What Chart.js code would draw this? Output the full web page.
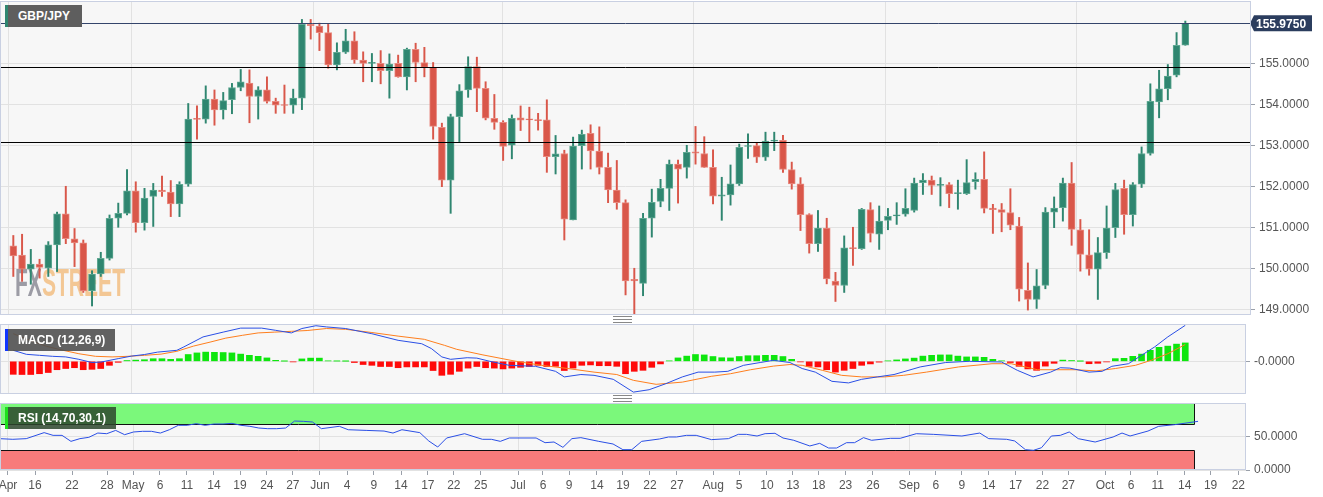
<!DOCTYPE html>
<html><head><meta charset="utf-8">
<script src="https://cdn.jsdelivr.net/npm/chart.js@4/dist/chart.umd.min.js"></script>
<style>
html,body{margin:0;padding:0;background:#fff;width:1323px;height:497px;overflow:hidden;font-family:"Liberation Sans",Arial,sans-serif}
.pane{position:absolute;left:0;width:1323px}
.tag{position:absolute;color:#fff;font-weight:bold;font-size:12px;line-height:22px;padding-left:10px;box-sizing:border-box;z-index:5}
.handle{position:absolute;left:613px;width:19px;height:5px;border-top:1px solid #888;border-bottom:1px solid #888;z-index:5}
.handle:after{content:"";position:absolute;left:0;right:0;top:2px;border-top:1px solid #888}
</style></head><body>
<div class="pane" style="top:0;height:318px"><canvas id="main"></canvas></div>
<div class="pane" style="top:324px;height:70px"><canvas id="macd"></canvas></div>
<div class="pane" style="top:403px;height:94px"><canvas id="rsi"></canvas></div>
<div class="tag" style="left:5px;top:5px;width:77px;background:#5e5e5e;border-left:3px solid #2f8670">GBP/JPY</div>
<div class="tag" style="left:5px;top:329px;width:110px;background:rgba(80,80,80,0.9);border-left:3px solid #1036ff">MACD (12,26,9)</div>
<div class="tag" style="left:5px;top:407px;width:111px;background:rgba(45,70,45,0.85);border-left:3px solid #1ee01e">RSI (14,70,30,1)</div>
<div class="handle" style="top:316px"></div>
<div class="handle" style="top:395px"></div>
<script>
// ---- data ----
const opens =[150.55,150.32,149.98,150.10,150.00,150.57,151.33,150.72,150.62,149.45,149.86,150.24,151.22,151.34,151.89,151.11,151.75,151.91,151.86,151.57,152.05,153.66,153.64,154.13,153.86,154.11,154.41,154.52,154.19,154.35,154.07,153.99,153.98,154.15,155.95,155.91,155.75,154.96,155.27,155.55,155.08,155.00,155.00,154.82,155.00,154.67,155.34,155.02,154.90,153.44,152.15,153.70,154.35,154.92,154.39,153.66,153.56,153.00,153.67,153.64,153.62,153.62,152.72,152.80,151.18,152.99,153.29,152.86,152.46,151.91,151.60,149.73,149.63,151.22,151.63,151.95,152.54,152.46,152.84,152.80,152.46,151.76,151.79,152.06,152.97,152.99,152.71,153.10,153.12,152.41,152.06,151.31,150.60,150.98,149.69,149.58,150.50,150.48,151.43,150.83,151.17,151.28,151.32,151.41,152.09,152.15,152.02,152.04,151.82,151.82,152.11,152.17,151.47,151.43,151.36,151.03,149.46,149.24,149.58,151.37,151.48,152.08,150.94,150.33,149.98,150.38,150.99,151.95,151.31,152.05,152.80,154.06,154.38,154.71,155.44];
const highs =[150.80,150.83,150.46,150.22,150.65,151.37,152.00,150.97,150.69,149.94,150.39,151.30,151.59,152.41,152.11,151.95,152.07,152.25,152.14,152.11,154.02,153.96,154.45,154.35,154.29,154.51,154.85,154.84,154.43,154.67,154.15,154.47,154.37,156.07,156.07,155.98,155.95,155.50,155.83,155.77,155.28,155.24,155.31,155.23,155.20,155.37,155.49,155.39,155.02,153.54,153.76,154.48,155.16,155.15,154.55,154.24,153.60,153.74,153.96,153.93,153.78,154.11,153.24,152.88,153.20,153.37,153.50,153.45,152.81,152.63,151.67,150.00,151.34,151.93,152.17,152.64,152.64,153.00,153.46,153.21,152.89,152.22,152.52,153.03,153.28,153.07,153.32,153.32,153.24,152.59,152.21,151.33,151.41,151.22,149.90,150.79,151.00,151.46,151.60,151.52,151.46,151.60,151.94,152.20,152.31,152.25,152.21,152.09,152.15,152.65,152.33,152.84,151.56,151.58,151.94,151.24,150.13,149.97,151.48,151.74,152.20,152.58,151.19,150.94,150.75,151.52,152.07,152.15,152.09,152.96,154.50,154.83,154.97,155.75,156.03];
const lows  =[149.80,149.68,149.61,149.76,149.80,149.92,150.60,150.04,149.41,149.08,149.80,150.20,151.00,151.30,150.88,150.93,151.02,151.75,151.26,151.26,152.00,153.15,153.54,153.49,153.64,153.77,154.33,153.55,153.64,154.03,153.78,153.78,153.78,153.87,155.59,155.31,154.88,154.84,155.24,155.00,154.55,154.55,154.50,154.15,154.66,154.35,154.55,154.67,153.15,151.99,151.34,153.09,154.17,153.82,153.62,153.39,152.63,152.67,153.36,153.09,153.37,152.34,152.30,150.69,151.18,152.42,152.42,152.30,151.60,151.44,149.35,148.86,149.33,150.76,151.50,151.41,151.59,152.20,152.54,152.46,151.57,151.17,151.54,152.02,152.68,152.58,152.63,152.87,152.34,151.93,150.92,150.37,150.41,149.62,149.19,149.41,150.07,150.46,150.64,150.46,150.94,151.07,151.27,151.37,151.80,151.80,151.52,151.48,151.44,151.80,151.93,151.35,150.85,150.89,150.94,149.20,148.98,149.02,149.50,150.99,151.15,150.56,149.93,149.83,149.24,150.24,150.75,150.83,151.03,151.97,152.76,153.67,154.11,154.67,155.44];
const closes=[150.30,149.98,150.10,150.02,150.57,151.33,150.72,150.62,149.45,149.86,150.24,151.22,151.34,151.89,151.11,151.71,151.91,151.87,151.57,152.05,153.64,153.63,154.13,153.86,154.09,154.41,154.55,154.19,154.35,154.07,153.98,153.97,154.15,155.95,155.92,155.75,154.96,155.27,155.55,155.08,155.00,155.02,154.82,154.98,154.67,155.34,155.02,154.90,153.46,152.15,153.70,154.33,154.92,154.39,153.66,153.56,152.97,153.66,153.61,153.62,153.60,152.72,152.79,151.20,152.98,153.27,152.86,152.46,151.91,151.60,149.69,149.69,151.22,151.61,151.95,152.54,152.42,152.83,152.81,152.46,151.76,151.79,152.06,152.95,152.99,152.71,153.10,153.12,152.41,152.06,151.31,150.60,150.98,149.74,149.58,150.50,150.48,151.44,150.85,151.15,151.27,151.30,151.46,152.08,152.15,152.02,152.05,151.82,151.84,152.09,152.17,151.46,151.43,151.36,151.05,149.49,149.24,149.57,151.37,151.47,152.08,150.95,150.34,149.98,150.38,150.98,151.92,151.31,152.04,152.80,154.07,154.38,154.69,155.44,155.975];
const macdHist=[-0.325,-0.33,-0.33,-0.31,-0.28,-0.21,-0.18,-0.16,-0.21,-0.20,
-0.18,-0.10,-0.025,0.02,0.03,0.04,0.065,0.065,0.05,0.065,
0.17,0.21,0.23,0.225,0.22,0.21,0.18,0.15,0.125,0.085,
0.025,0.003,-0.015,0.06,0.08,0.08,0.01,0.005,0.002,-0.03,
-0.08,-0.10,-0.13,-0.13,-0.16,-0.14,-0.14,-0.14,-0.23,-0.35,
-0.325,-0.25,-0.17,-0.13,-0.16,-0.17,-0.19,-0.17,-0.15,-0.13,
-0.10,-0.13,-0.125,-0.23,-0.17,-0.10,-0.09,-0.11,-0.11,-0.125,
-0.31,-0.25,-0.225,-0.15,-0.065,0.01,0.085,0.13,0.17,0.16,
0.12,0.09,0.085,0.12,0.14,0.14,0.15,0.15,0.12,0.05,
-0.015,-0.125,-0.14,-0.21,-0.27,-0.225,-0.18,-0.10,-0.065,-0.02,
0.01,0.035,0.06,0.08,0.13,0.15,0.16,0.16,0.13,0.11,
0.11,0.10,0.05,0.01,-0.03,-0.125,-0.19,-0.225,-0.12,-0.05,
0.03,0.02,0.002,-0.06,-0.05,-0.015,0.067,0.075,0.125,0.18,
0.275,0.35,0.38,0.43,0.46];
const macdLine=[[0,0.275],[1.5,0.175],[3,0.15],[4.5,0.125],[6,0.11],[7.5,0.05],[9,-0.03],[10,-0.02],[12,0.067],[13.5,0.13],[15,0.17],[16.5,0.23],[18.7,0.275],[19.5,0.36],[21.7,0.61],[24,0.73],[26,0.83],[28.4,0.83],[30,0.775],[31.8,0.71],[33,0.82],[34.6,0.89],[35.8,0.86],[38,0.82],[41,0.69],[44,0.525],[46.7,0.44],[47.8,0.32],[49,0.11],[50,0.05],[51.9,0.09],[53,0.08],[54.5,0],[56.7,-0.1],[59.7,-0.125],[62,-0.25],[63,-0.39],[64.9,-0.33],[66.4,-0.35],[68.6,-0.45],[70.9,-0.77],[72.7,-0.71],[74.6,-0.56],[76.5,-0.39],[78.3,-0.27],[80.2,-0.27],[81.7,-0.25],[83.5,-0.1],[85.4,-0.03],[86.9,0.025],[88.8,-0.03],[90.2,-0.18],[91.7,-0.27],[93.6,-0.5],[95.5,-0.54],[97,-0.45],[98.8,-0.39],[100.7,-0.33],[103.7,-0.14],[106.6,-0.03],[109.3,0],[113,-0.017],[114.8,-0.225],[116.6,-0.39],[118.6,-0.27],[119.7,-0.16],[120.8,-0.17],[123,-0.27],[124.5,-0.25],[125.6,-0.125],[127.5,-0.06],[129,0.15],[130.5,0.36],[132,0.61],[134,0.9]];
const signalLine=[[0,0.69],[1.9,0.525],[3.8,0.375],[5.7,0.275],[7.5,0.19],[9.4,0.125],[11.3,0.11],[13.1,0.125],[15,0.15],[16.9,0.18],[18.7,0.25],[20.6,0.38],[22.5,0.48],[24.3,0.58],[26.2,0.65],[28,0.71],[29.9,0.73],[31.8,0.75],[33.6,0.77],[35.8,0.82],[38,0.8],[41,0.72],[44,0.63],[47,0.55],[49.3,0.4],[50.7,0.3],[53.7,0.16],[57.5,0],[60.4,-0.1],[63.4,-0.18],[66.4,-0.27],[69,-0.33],[70.9,-0.475],[73.5,-0.575],[76.5,-0.52],[79.8,-0.375],[82,-0.31],[84.3,-0.21],[86.9,-0.12],[88.8,-0.08],[90.2,-0.1],[92.5,-0.225],[94.7,-0.35],[97,-0.39],[99.6,-0.39],[101.8,-0.35],[104.4,-0.27],[108.1,-0.14],[111.9,-0.06],[114.1,-0.06],[117.1,-0.21],[119.3,-0.21],[121.5,-0.21],[123.8,-0.24],[126,-0.18],[128.3,-0.1],[130.1,0.025],[132,0.19],[134,0.42]];
const rsiLine=[[0,47.5],[1.5,46.5],[3,47.5],[5,56.6],[6,52.5],[7,52.5],[8,43.4],[9,47.5],[10,49.5],[11,56],[12,55],[13,60],[14,53.5],[15,57.6],[16,58.6],[17,58.6],[18,56],[19,61],[20,67.7],[21,67.7],[22,70.2],[23,67.7],[24,69.7],[25,69.7],[26,70.7],[27,67.7],[28,66.2],[29,63.6],[30,62.6],[31,62.6],[32,63.6],[33,74.2],[34,73.7],[35,72.7],[36,62.6],[38,66.2],[39,61],[41,60],[43,59],[44,56],[45,61],[47,56.6],[48,44],[49,34.8],[50,48.5],[52,55],[54,46.5],[55,46.5],[56,43.4],[57,48.5],[60,48.5],[61,41.4],[62,42.4],[63,34.3],[64,47.5],[65,49],[67,43.4],[68.6,39.4],[69.7,30.8],[70.7,30.8],[71.8,43.4],[73.8,47],[74.8,50],[75.7,50],[76.8,52.5],[77.9,52.5],[79.6,46],[81.5,47.5],[82.6,54],[83.5,54],[84.7,51.5],[85.6,55],[86.7,55.6],[87.6,48.5],[88.8,45],[90.6,36.4],[91.7,40.4],[92.7,33.3],[93.6,33.3],[94.7,41.4],[95.6,41.4],[96.6,49],[97.5,45],[99.6,48],[100.7,48],[102.5,55],[104.4,54],[107.6,51.5],[109.6,56],[110.6,47.5],[112.6,46.5],[113.5,44],[114.7,30.8],[115.6,29.8],[116.5,33.8],[117.6,51.5],[118.6,52.5],[119.6,57.6],[120.6,47.5],[122.5,42.4],[124.5,50],[125.5,56],[126.4,51.5],[128.4,59],[129.6,66.2],[131.4,68.7],[134,73.7]];
const levels=[155.975,154.92,153.07];
const priceTicks=[149,150,151,152,153,154,155];
const tickText=['Apr','16','22','28','May','6','11','14','19','24','27','Jun','4','9','14','17','22','25','Jul','6','9','14','19','22','27','Aug','5','10','13','18','23','26','Sep','6','9','14','17','22','27','Oct','6','11','14','19','22'];
const tickIdx=[0.96,3.98,8.12,12.03,14.94,17.95,20.97,23.99,26.9,29.9,32.8,35.84,38.86,41.87,44.9,47.9,50.8,53.8,57.98,60.77,63.68,66.8,69.7,72.73,75.75,79.8,82.7,85.8,88.7,91.6,94.6,97.66,101.7,104.7,107.6,110.6,113.6,116.6,119.5,123.6,126.5,129.5,132.5,135.4,138.5];

// ---- helpers ----
const UP='#2f8670', DOWN='#d9574a', UPB='#5fa892', DOWNB='#e88a80';
const FONT={family:'"Liberation Sans", Arial, sans-serif',size:12};
const isMonth=i=>isNaN(parseInt(tickText[i]));
const last=closes.length-1;
function xAxis(maxV,showLabels){
  return {type:'linear',min:0.067,max:maxV,
    afterBuildTicks:s=>{s.ticks=tickIdx.map(v=>({value:v}));},
    afterFit:s=>{s.height=showLabels?27:0;s.paddingLeft=0;s.paddingRight=0;},
    border:{display:false},
    grid:{drawOnChartArea:true,drawTicks:showLabels,tickLength:5,
      color:c=>(c.index!==undefined&&isMonth(c.index))?'#e2e2e2':'rgba(0,0,0,0)',
      tickColor:'#9aa0aa'},
    ticks:{display:showLabels,autoSkip:false,maxRotation:0,padding:3,color:'#555',font:FONT,
      callback:(v,i)=>tickText[i]}};
}
function yAxis(min,max,ticks,width,fmt){
  return {position:'right',min,max,
    afterBuildTicks:s=>{s.ticks=ticks.map(v=>({value:v}));},
    afterFit:s=>{s.width=width;s.paddingTop=0;s.paddingBottom=0;},
    border:{display:false},
    grid:{color:'#e2e2e2',tickLength:4,tickColor:'#9aa0aa'},
    ticks:{padding:4,color:'#555',font:FONT,callback:fmt}};
}
const frame={id:'frame',
  beforeDraw(ch){const a=ch.chartArea,c=ch.ctx;c.save();c.fillStyle='#f7f7f7';c.fillRect(a.left,a.top,a.right-a.left,a.bottom-a.top);c.restore();},
  afterDraw(ch){const a=ch.chartArea,c=ch.ctx;c.save();c.strokeStyle='#c9d0e2';c.lineWidth=1;c.strokeRect(a.left+0.5,a.top+0.5,a.right-a.left-1,a.bottom-a.top-1);c.restore();}};
const common={responsive:true,maintainAspectRatio:false,animation:false,devicePixelRatio:1,
  layout:{padding:0},plugins:{legend:{display:false},tooltip:{enabled:false}}};

// ---- main candlestick chart ----
const mainExtras={id:'mainExtras',
  beforeDatasetsDraw(ch){
    const c=ch.ctx,a=ch.chartArea;c.save();
    c.beginPath();c.rect(a.left,a.top,a.right-a.left,a.bottom-a.top);c.clip();
    c.font='bold 38px "Liberation Sans", Arial';
    const wFX=c.measureText('FX').width,wAll=c.measureText('FXSTREET').width;
    c.translate(15,296);c.scale(110/wAll,1);
    c.fillStyle='rgba(140,140,150,0.85)';c.fillText('FX',0,0);
    c.fillStyle='rgba(242,190,130,0.85)';c.fillText('STREET',wFX,0);
    c.restore();
  },
  afterDatasetsDraw(ch){
    const c=ch.ctx,a=ch.chartArea,y=ch.scales.y;c.save();
    levels.forEach((v,i)=>{const py=Math.round(y.getPixelForValue(v))+0.5;
      c.strokeStyle=i===0?'#34456b':'#000';c.lineWidth=1;
      c.beginPath();c.moveTo(a.left,py);c.lineTo(a.right,py);c.stroke();});
    const py=y.getPixelForValue(closes[last]);
    c.fillStyle='#2b3d5e';
    c.beginPath();c.moveTo(a.right-1,py);c.lineTo(a.right+3,py-8);c.lineTo(a.right+61,py-8);c.lineTo(a.right+61,py+8);c.lineTo(a.right+3,py+8);c.closePath();c.fill();
    c.fillStyle='#fff';c.font='bold 12px "Liberation Sans", Arial';c.textBaseline='middle';
    c.fillText(closes[last].toFixed(4),a.right+5,py+1);
    c.restore();
  }};
const idx=opens.map((_,i)=>i);
const col=i=>closes[i]>=opens[i]?UP:DOWN;
new Chart(document.getElementById('main'),{type:'bar',
  data:{datasets:[
    {data:idx.map(i=>({x:i,y:[opens[i],closes[i]]})),barThickness:7,minBarLength:1,grouped:false,order:1,
      backgroundColor:c=>col(c.dataIndex),borderColor:c=>closes[c.dataIndex]>=opens[c.dataIndex]?UPB:DOWNB,borderWidth:1,borderSkipped:false},
    {data:idx.map(i=>({x:i,y:[lows[i],highs[i]]})),barThickness:1.3,grouped:false,order:2,
      backgroundColor:c=>col(c.dataIndex)}]},
  options:{...common,layout:{padding:{top:1,bottom:3}},
    scales:{x:xAxis(139.92,false),y:yAxis(148.86,156.52,priceTicks,72,v=>v.toFixed(4))}},
  plugins:[frame,mainExtras]});

// ---- MACD ----
new Chart(document.getElementById('macd'),{type:'bar',
  data:{datasets:[
    {type:'line',data:macdLine.map(p=>({x:p[0],y:p[1]})),borderColor:'#2a4fe6',borderWidth:1,pointRadius:0,order:1},
    {type:'line',data:signalLine.map(p=>({x:p[0],y:p[1]})),borderColor:'#ff7f1e',borderWidth:1,pointRadius:0,order:2},
    {data:macdHist.map((v,i)=>({x:i,y:v})),barThickness:6,grouped:false,order:3,
      backgroundColor:c=>macdHist[c.dataIndex]>=0?'#0ee60e':'#ff0a0a'}]},
  options:{...common,scales:{x:xAxis(139.36,false),
    y:yAxis(-0.817,0.933,[0],77,v=>'-0.0000')}},
  plugins:[frame]});

// ---- RSI ----
const bands={id:'bands',beforeDatasetsDraw(ch){
  const c=ch.ctx,a=ch.chartArea,x=ch.scales.x,y=ch.scales.y;
  const r=Math.round(x.getPixelForValue(last-0.45));
  const y100=y.getPixelForValue(100),y70=Math.round(y.getPixelForValue(70)),y30=Math.round(y.getPixelForValue(30)),y0=y.getPixelForValue(0);
  c.save();
  c.fillStyle='#7bf87b';c.fillRect(a.left,y100,r-a.left,y70-y100);
  c.fillStyle='#f87b7b';c.fillRect(a.left,y30,r-a.left,y0-y30);
  c.strokeStyle='#111';c.lineWidth=1;
  c.beginPath();c.moveTo(a.left,y70+0.5);c.lineTo(r+0.5,y70+0.5);c.lineTo(r+0.5,y100);
  c.moveTo(a.left,y30+0.5);c.lineTo(r+0.5,y30+0.5);c.lineTo(r+0.5,y0);c.stroke();
  c.restore();}};
new Chart(document.getElementById('rsi'),{type:'line',
  data:{datasets:[{data:rsiLine.map(p=>({x:p[0],y:p[1]})),borderColor:'#2a4fe6',borderWidth:1,pointRadius:0}]},
  options:{...common,scales:{x:xAxis(139.36,true),
    y:yAxis(0,101.5,[0,50],77,v=>v.toFixed(4))}},
  plugins:[frame,bands]});
</script></body></html>
